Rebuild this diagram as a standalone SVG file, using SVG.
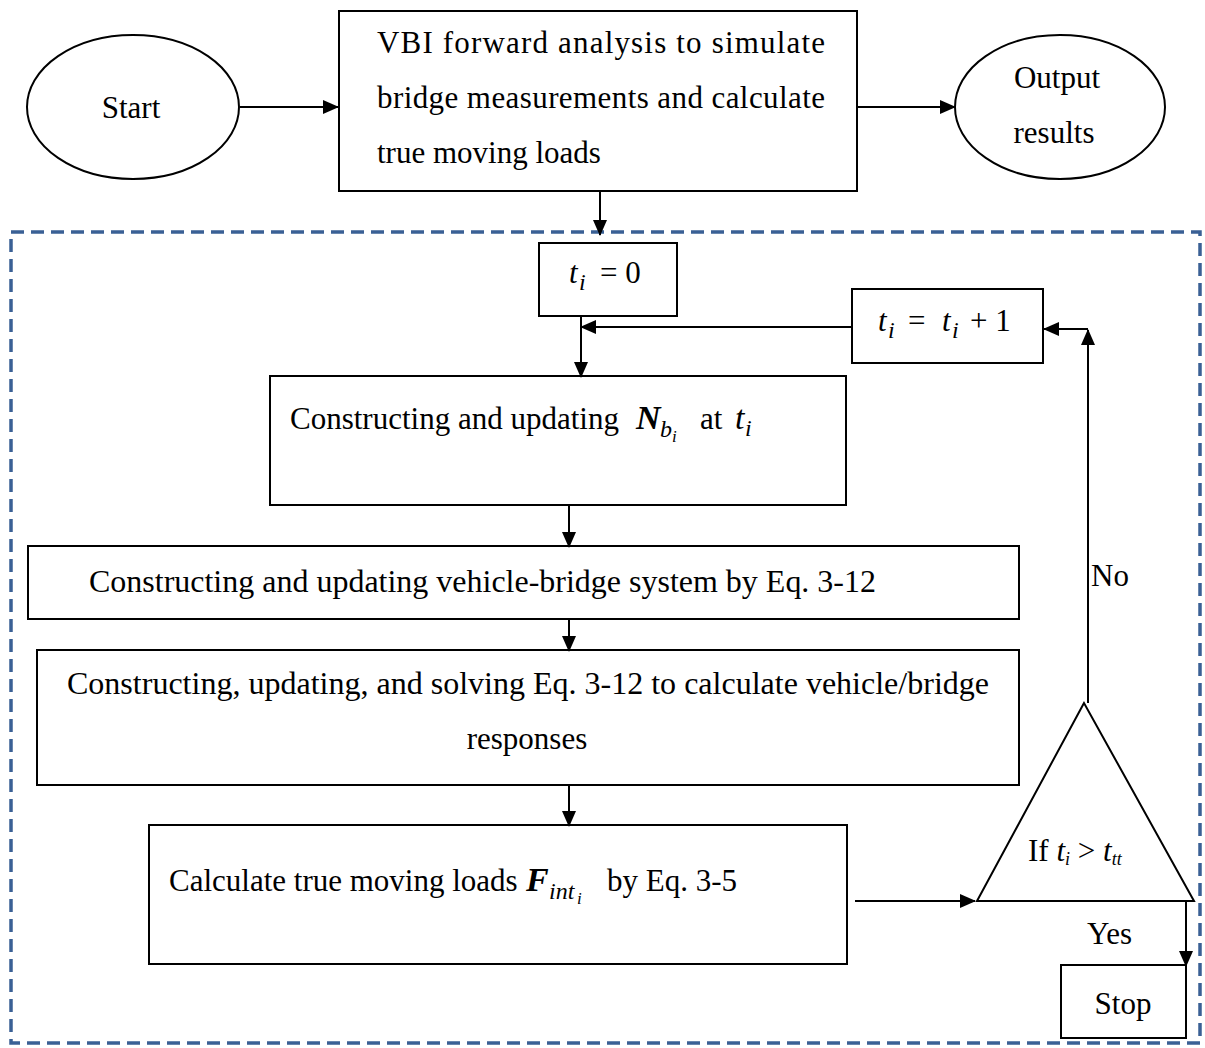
<svg xmlns="http://www.w3.org/2000/svg" width="1205" height="1048" viewBox="0 0 1205 1048">
<style>
.s{fill:#fff;stroke:#000;stroke-width:2}
.t{font-family:"Liberation Serif","Times New Roman",serif;font-size:31px;fill:#000}
.m{font-family:"Liberation Serif","Times New Roman",serif;font-style:italic}
.c{stroke:#000;stroke-width:2;fill:none}
</style>
<defs>
<marker id="a" markerUnits="userSpaceOnUse" markerWidth="16" markerHeight="14" refX="15" refY="7" orient="auto">
<path d="M0,0 L16,7 L0,14 z" fill="#000"/>
</marker>
</defs>
<rect x="11" y="232" width="1189" height="811" fill="none" stroke="#3a6095" stroke-width="3.5" stroke-dasharray="13 7"/>
<g id="start"><ellipse class="s" cx="133" cy="107" rx="106" ry="72"/><text class="t" x="131" y="118" text-anchor="middle">Start</text></g>
<g id="vbi"><rect class="s" x="339" y="11" width="518" height="180"/>
<text class="t" x="377" y="53" textLength="448" lengthAdjust="spacing">VBI forward analysis to simulate</text>
<text class="t" x="377" y="108" textLength="448" lengthAdjust="spacing">bridge measurements and calculate</text>
<text class="t" x="377" y="163">true moving loads</text></g>
<g id="output"><ellipse class="s" cx="1060" cy="107" rx="105" ry="72"/><text class="t" x="1057" y="88" text-anchor="middle">Output</text><text class="t" x="1054" y="143" text-anchor="middle">results</text></g>
<g id="t0"><rect class="s" x="539" y="243" width="138" height="73"/><text class="t" y="283" font-size="34"><tspan class="m" x="569">t</tspan><tspan class="m" font-size="24" x="579" dy="7">i</tspan><tspan x="600" dy="-7">= 0</tspan></text></g>
<g id="tinc"><rect class="s" x="852" y="289" width="191" height="74"/><text class="t" y="331" font-size="34"><tspan class="m" x="878">t</tspan><tspan class="m" font-size="24" x="888" dy="7">i</tspan><tspan x="908" dy="-7">=</tspan><tspan class="m" x="942">t</tspan><tspan class="m" font-size="24" x="952" dy="7">i</tspan><tspan x="970" dy="-7">+ 1</tspan></text></g>
<g id="nb"><rect class="s" x="270" y="376" width="576" height="129"/><text class="t" x="290" y="429">Constructing and updating <tspan class="m" font-weight="bold" font-size="34" x="636">N</tspan><tspan class="m" font-size="24" x="660" dy="8">b</tspan><tspan class="m" font-size="17" x="672" dy="5">i</tspan><tspan x="700" dy="-13">at </tspan><tspan class="m" font-size="34" x="735">t</tspan><tspan class="m" font-size="24" x="745" dy="7">i</tspan></text></g>
<g id="vbs"><rect class="s" x="28" y="546" width="991" height="73"/><text class="t" x="89" y="592" textLength="787" lengthAdjust="spacingAndGlyphs">Constructing and updating vehicle-bridge system by Eq. 3-12</text></g>
<g id="solve"><rect class="s" x="37" y="650" width="982" height="135"/><text class="t" x="67" y="694" textLength="922" lengthAdjust="spacingAndGlyphs">Constructing, updating, and solving Eq. 3-12 to calculate vehicle/bridge</text><text class="t" x="527" y="749" text-anchor="middle">responses</text></g>
<g id="force"><rect class="s" x="149" y="825" width="698" height="139"/><text class="t" x="169" y="891">Calculate true moving loads <tspan class="m" font-weight="bold" font-size="34" x="526">F</tspan><tspan class="m" font-size="24" x="549" dy="8">int</tspan><tspan class="m" font-size="17" x="577" dy="5">i</tspan><tspan x="607" dy="-13">by Eq. 3-5</tspan></text></g>
<g id="decision"><path class="s" d="M1084,703 L977,901 L1194,901 Z"/><text class="t" x="1028" y="861">If <tspan class="m">t</tspan><tspan class="m" font-size="18" dy="4">i</tspan><tspan dy="-4"> &gt; </tspan><tspan class="m">t</tspan><tspan class="m" font-size="18" dy="4">tt</tspan></text></g>
<g id="stop"><rect class="s" x="1061" y="965" width="125" height="73"/><text class="t" x="1123" y="1014" text-anchor="middle">Stop</text></g>
<g id="connectors">
<path class="c" d="M240,107 H338" marker-end="url(#a)"/>
<path class="c" d="M857,107 H955" marker-end="url(#a)"/>
<path class="c" d="M600,191 V235" marker-end="url(#a)"/>
<path class="c" d="M581,316 V377" marker-end="url(#a)"/>
<path class="c" d="M852,327 H581" marker-end="url(#a)"/>
<path class="c" d="M1088,703 V330" marker-end="url(#a)"/>
<path class="c" d="M1088,329 H1044" marker-end="url(#a)"/>
<path class="c" d="M569,505 V547" marker-end="url(#a)"/>
<path class="c" d="M569,619 V651" marker-end="url(#a)"/>
<path class="c" d="M569,785 V826" marker-end="url(#a)"/>
<path class="c" d="M855,901 H975" marker-end="url(#a)"/>
<path class="c" d="M1186,901 V966" marker-end="url(#a)"/>
<text class="t" x="1091" y="586">No</text>
<text class="t" x="1087" y="944">Yes</text>
</g>
</svg>
